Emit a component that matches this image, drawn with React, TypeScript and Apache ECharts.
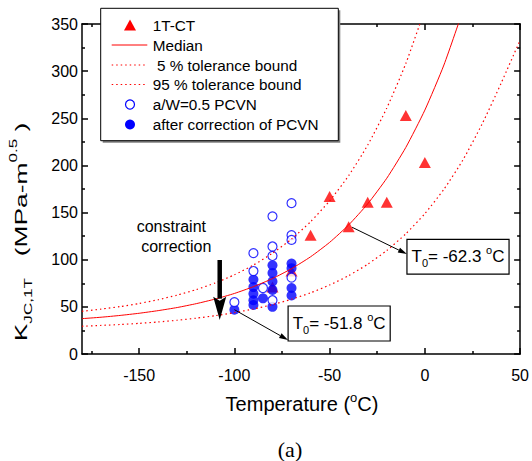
import React, { useEffect, useRef } from "react";
import * as echarts from "echarts";

// ---- data ----
const ctTemps = [-10, 0, -50, -30, -20, -40, -60, -80, -70];
const ctK = [253, 203, 167, 161, 161, 135, 126, 71, 88];

const pcvnTemps = [-100, -90, -90, -85, -80, -80, -80, -80, -70, -70, -70, -70];
const pcvnK = [55, 107, 88, 70, 146, 114, 104, 57, 160, 126, 121, 81];

const corrTemps = [-100, -90, -90, -90, -90, -90, -85, -80, -80, -80, -80, -80, -70, -70, -70, -70];
const corrK = [47, 79, 71, 64, 57, 52, 59, 94, 86, 77, 68, 50, 96, 91, 70, 62];

const medianTemps = [-180, -170, -160, -150, -140, -130, -120, -110, -100, -90, -80, -70, -60, -50, -40, -30, -20, -10, 0, 10, 20];
const medianK = [37.5, 39.0, 40.9, 43.2, 46.0, 49.3, 53.4, 58.3, 64.2, 71.4, 80.0, 90.5, 103.1, 118.4, 136.9, 159.3, 186.4, 219.1, 258.7, 306.5, 364.4];

const lowerTemps = [-180, -170, -160, -150, -140, -130, -120, -110, -100, -90, -80, -70, -60, -50, -40, -30, -20, -10, 0, 10, 20, 30, 40, 50];
const lowerK = [29.4, 30.3, 31.3, 32.5, 34.0, 35.8, 38.0, 40.7, 43.9, 47.7, 52.4, 58.1, 64.9, 73.2, 83.1, 95.2, 109.8, 127.5, 148.9, 174.7, 205.9, 243.7, 287, 333];

const upperTemps = [-180, -170, -160, -150, -140, -130, -120, -110, -100, -90, -80, -70, -60, -50, -40, -30, -20, -10, 0];
const upperK = [45.3, 47.6, 50.3, 53.6, 57.6, 62.5, 68.3, 75.4, 84.0, 94.3, 106.9, 122.0, 140.3, 162.5, 189.2, 221.6, 260.8, 308.1, 365.4];

const xMajor = [-150, -100, -50, 0, 50];
const xMinor = [-175, -125, -75, -25, 25];

const legendLabels = ["1T-CT", "Median", " 5 % tolerance bound", "95 % tolerance bound", "a/W=0.5 PCVN", "after correction of PCVN"];

const FONT = "'Liberation Sans', Arial, Helvetica, sans-serif";
const RED = "#ff0000";
const BLUE = "#0000ff";
const DOT = [1.5, 3];

const pairs = (xs: number[], ys: number[]) => xs.map((x, i) => [x, ys[i]]);

export default function App() {
  const ref = useRef<HTMLDivElement>(null);
  useEffect(() => {
    const chart = echarts.init(ref.current!, null, { renderer: "svg" });
    const axLine = { show: true, onZero: false, lineStyle: { color: "#000", width: 1.5 } };
    const noLine = { show: false, onZero: false };
    const tickStyle = { color: "#000", width: 1.5 };
    const baseX = { type: "value", min: -180, max: 50, splitLine: { show: false } };
    const baseY = { type: "value", min: 0, max: 350, interval: 50, splitLine: { show: false } };
    const option: any = {
      animation: false,
      backgroundColor: "#fff",
      grid: { left: 82, right: 10, top: 24, bottom: 107 },
      xAxis: [
        { ...baseX, position: "bottom", axisLine: axLine,
          axisTick: { show: true, inside: true, length: 6, customValues: xMajor, lineStyle: tickStyle },
          axisLabel: { show: true, customValues: xMajor, fontSize: 16, color: "#000", fontFamily: FONT, margin: 13 } },
        { ...baseX, position: "bottom", axisLine: noLine,
          axisTick: { show: true, inside: true, length: 3, customValues: xMinor, lineStyle: tickStyle },
          axisLabel: { show: false } },
        { ...baseX, position: "top", axisLine: axLine,
          axisTick: { show: true, inside: true, length: 6, customValues: xMajor, lineStyle: tickStyle },
          axisLabel: { show: false } },
        { ...baseX, position: "top", axisLine: noLine,
          axisTick: { show: true, inside: true, length: 3, customValues: xMinor, lineStyle: tickStyle },
          axisLabel: { show: false } },
      ],
      yAxis: [
        { ...baseY, position: "left", axisLine: axLine,
          axisTick: { show: true, inside: true, length: 6, lineStyle: tickStyle },
          minorTick: { show: true, splitNumber: 2, length: 3, lineStyle: tickStyle },
          axisLabel: { fontSize: 16, color: "#000", fontFamily: FONT, margin: 4 } },
        { ...baseY, position: "right", axisLine: axLine,
          axisTick: { show: true, inside: true, length: 6, lineStyle: tickStyle },
          minorTick: { show: true, splitNumber: 2, length: 3, lineStyle: tickStyle },
          axisLabel: { show: false } },
      ],
      series: [
        { name: "Median", type: "line", data: pairs(medianTemps, medianK), showSymbol: false,
          lineStyle: { color: RED, width: 1 }, smooth: 0.2 },
        { name: "5 %", type: "line", data: pairs(lowerTemps, lowerK), showSymbol: false,
          lineStyle: { color: RED, width: 1.2, type: DOT }, smooth: 0.2 },
        { name: "95 %", type: "line", data: pairs(upperTemps, upperK), showSymbol: false,
          lineStyle: { color: RED, width: 1.2, type: DOT }, smooth: 0.2 },
        { name: "1T-CT", type: "scatter", data: pairs(ctTemps, ctK), symbol: "triangle",
          symbolSize: [12, 11], itemStyle: { color: RED } },
        { name: "after correction", type: "scatter", data: pairs(corrTemps, corrK), symbol: "circle",
          symbolSize: 10, itemStyle: { color: BLUE } },
        { name: "a/W=0.5 PCVN", type: "scatter", data: pairs(pcvnTemps, pcvnK), symbol: "circle",
          symbolSize: 9, itemStyle: { color: "#fff", borderColor: BLUE, borderWidth: 1.2 } },
      ],
    };
    chart.setOption(option);

    const p = (x: number, y: number) => chart.convertToPixel({ xAxisIndex: 0, yAxisIndex: 0 }, [x, y]) as number[];

    const g: any[] = [];
    const txt = (x: number, y: number, text: string, extra: any = {}) => ({
      type: "text", z: 100, x, y,
      style: { text, fontSize: 16, fontFamily: FONT, fill: "#000", align: "left", verticalAlign: "middle", ...extra },
    });

    // Legend box
    const lx = 100.7, ly = 8.3, lw = 237.6, lh = 132.4;
    g.push({ type: "rect", z: 99, shape: { x: lx + 2, y: ly + 2, width: lw, height: lh }, style: { fill: "#808080" } });
    g.push({ type: "rect", z: 99, shape: { x: lx, y: ly, width: lw, height: lh }, style: { fill: "#fff", stroke: "#000", lineWidth: 1 } });
    const rows = [25, 45, 65, 84.5, 104.5, 124.5];
    const sx = 130, l0 = 111.7, l1 = 147.3;
    g.push({ type: "polygon", z: 100, shape: { points: [[sx - 6, rows[0] + 5.5], [sx + 6, rows[0] + 5.5], [sx, rows[0] - 5.5]] }, style: { fill: RED } });
    g.push({ type: "line", z: 100, shape: { x1: l0, y1: rows[1], x2: l1, y2: rows[1] }, style: { stroke: RED, lineWidth: 1 } });
    g.push({ type: "line", z: 100, shape: { x1: l0, y1: rows[2], x2: l1, y2: rows[2] }, style: { stroke: RED, lineWidth: 1.2, lineDash: DOT } });
    g.push({ type: "line", z: 100, shape: { x1: l0, y1: rows[3], x2: l1, y2: rows[3] }, style: { stroke: RED, lineWidth: 1.2, lineDash: DOT } });
    g.push({ type: "circle", z: 100, shape: { cx: sx, cy: rows[4], r: 4.5 }, style: { fill: "#fff", stroke: BLUE, lineWidth: 1.2 } });
    g.push({ type: "circle", z: 100, shape: { cx: sx, cy: rows[5], r: 5 }, style: { fill: BLUE } });
    legendLabels.forEach((t, i) => g.push(txt(152.7, rows[i], t, { fontSize: 15.3 })));

    // constraint correction text + thick arrow
    const c1 = p(-133.1, 135.7), c2 = p(-130.5, 114.5);
    g.push(txt(c1[0], c1[1], "constraint", { align: "center" }));
    g.push(txt(c2[0], c2[1], "correction", { align: "center" }));
    const aTop = p(-107.7, 99.7), aHead = p(-107.7, 60.8), aTip = p(-107.7, 36);
    g.push({ type: "line", z: 100, shape: { x1: aTop[0], y1: aTop[1], x2: aHead[0], y2: aHead[1] + 2 }, style: { stroke: "#000", lineWidth: 4.5 } });
    g.push({ type: "polygon", z: 100, shape: { points: [[aHead[0] - 6.5, aHead[1]], [aTip[0], aTip[1]], [aHead[0] + 6.5, aHead[1]], [aHead[0], aHead[1] + 4]] }, style: { fill: "#000" } });

    // thin arrows
    const arrow = (a: number[], b: number[]) => {
      const dx = b[0] - a[0], dy = b[1] - a[1];
      const L = Math.hypot(dx, dy); const ux = dx / L, uy = dy / L;
      const hl = 9, hw = 2.6;
      const bx = b[0] - ux * hl, by = b[1] - uy * hl;
      g.push({ type: "line", z: 100, shape: { x1: a[0], y1: a[1], x2: bx, y2: by }, style: { stroke: "#000", lineWidth: 1 } });
      g.push({ type: "polygon", z: 100, shape: { points: [[b[0], b[1]], [bx - uy * hw, by + ux * hw], [bx + uy * hw, by - ux * hw]] }, style: { fill: "#000" } });
    };
    arrow(p(-100, 47), p(-71.8, 14.8));
    arrow(p(-38.2, 134.4), p(-9.4, 106));

    // T0 boxes
    const rich = {
      a: { fontSize: 17, fontFamily: FONT, lineHeight: 24, fill: "#000" },
      b: { fontSize: 11, fontFamily: FONT, lineHeight: 10, verticalAlign: "bottom", fill: "#000" },
      s: { fontSize: 11, fontFamily: FONT, lineHeight: 12, verticalAlign: "top", fill: "#000" },
    };
    const box = (x0: number, y0: number, x1: number, y1: number, val: string) => {
      const a = p(x0, y0), b = p(x1, y1);
      g.push({ type: "rect", z: 100, shape: { x: a[0], y: a[1], width: b[0] - a[0], height: b[1] - a[1] }, style: { fill: "#fff", stroke: "#000", lineWidth: 1.2 } });
      g.push({ type: "text", z: 101, x: (a[0] + b[0]) / 2, y: (a[1] + b[1]) / 2,
        style: { text: `{a|T}{b|0}{a|= ${val} }{s|o}{a|C}`, rich, align: "center", verticalAlign: "middle" } });
    };
    box(-71.8, 50.9, -18.2, 13.8, "-51.8");
    box(-9.4, 121.6, 44.2, 84.8, "-62.3");

    // axis titles
    g.push({ type: "text", z: 100, x: 302, y: 404,
      style: { text: "{a|Temperature (}{s|o}{a|C)}", align: "center", verticalAlign: "middle",
        rich: { a: { fontSize: 20, fontFamily: FONT, lineHeight: 26, fill: "#000" }, s: { fontSize: 13, fontFamily: FONT, lineHeight: 14, verticalAlign: "top", fill: "#000" } } } });
    g.push({ type: "text", z: 100, x: 21, y: 232, rotation: Math.PI / 2, scaleX: 1.55,
      style: { text: "{a|K}{b|JC,1T}{a|   (MPa-m}{s|0.5}{a| )}", align: "center", verticalAlign: "middle",
        rich: { a: { fontSize: 17, fontFamily: FONT, lineHeight: 26, fill: "#000" },
          b: { fontSize: 11, fontFamily: FONT, lineHeight: 11, verticalAlign: "bottom", fill: "#000" },
          s: { fontSize: 11, fontFamily: FONT, lineHeight: 12, verticalAlign: "top", fill: "#000" } } } });
    // caption
    g.push({ type: "text", z: 100, x: 290, y: 449,
      style: { text: "(a)", fontSize: 22, fontFamily: "'Liberation Serif', 'Times New Roman', serif", fill: "#000", align: "center", verticalAlign: "middle" } });

    chart.setOption({ graphic: g });
    return () => chart.dispose();
  }, []);
  return <div ref={ref} style={{ position: "absolute", left: 0, top: 0, width: 532, height: 461, background: "#fff" }} />;
}
